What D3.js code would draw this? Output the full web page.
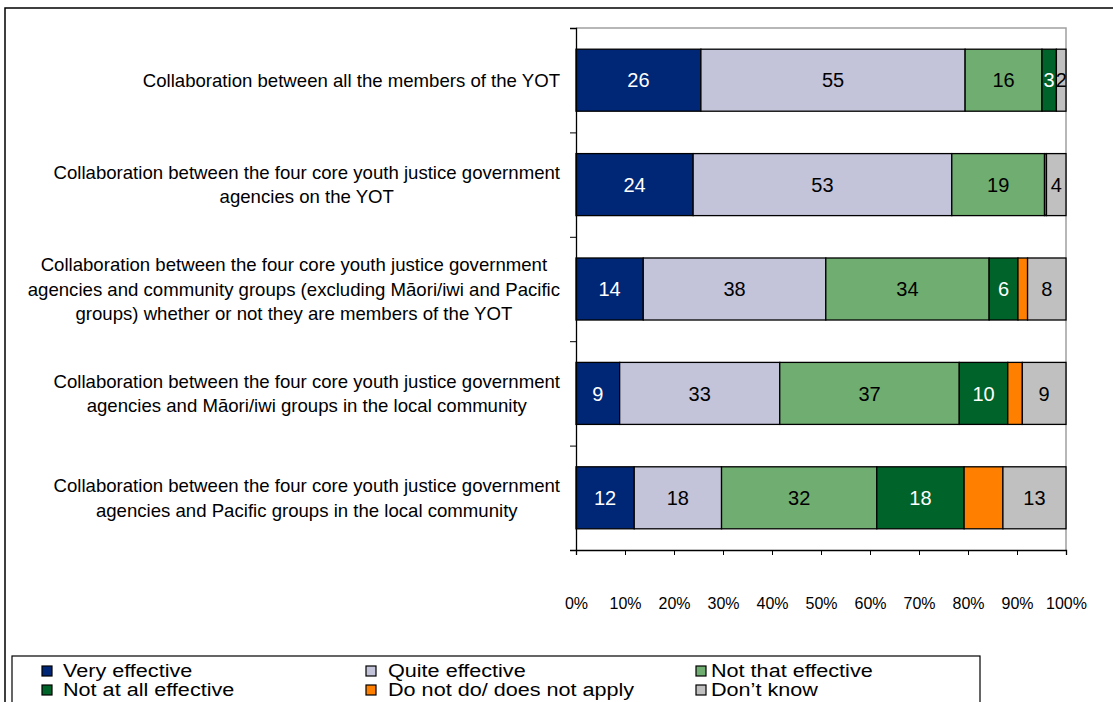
<!DOCTYPE html>
<html>
<head>
<meta charset="utf-8">
<script src="https://cdn.jsdelivr.net/npm/d3@7"></script>
<style>
  html, body { margin: 0; padding: 0; background: #fff; }
  svg { display: block; font-family: "Liberation Sans", Arial, sans-serif; }
</style>
</head>
<body>
<svg id="chart" width="1113" height="702"></svg>
<script>
// Categories (each entry is a list of wrapped lines)
const categories = [
  ["Collaboration between all the members of the YOT"],
  ["Collaboration between the four core youth justice government", "agencies on the YOT"],
  ["Collaboration between the four core youth justice government", "agencies and community groups (excluding Māori/iwi and Pacific", "groups) whether or not they are members of the YOT"],
  ["Collaboration between the four core youth justice government", "agencies and Māori/iwi groups in the local community"],
  ["Collaboration between the four core youth justice government", "agencies and Pacific groups in the local community"]
];

// Response series, percentages per category
const seriesNames = ["Very effective", "Quite effective", "Not that effective", "Not at all effective", "Do not do/ does not apply", "Don’t know"];
const veryEffective     = [26, 24, 14, 9, 12];
const quiteEffective    = [55, 53, 38, 33, 18];
const notThatEffective  = [16, 19, 34, 37, 32];
const notAtAllEffective = [3, 0, 6, 10, 18];
const doNotApply        = [0, 0.4, 2, 3, 8];
const dontKnow          = [2, 4, 8, 9, 13];

const xTicks = [0, 0.1, 0.2, 0.3, 0.4, 0.5, 0.6, 0.7, 0.8, 0.9, 1];

const colors = ["#002776", "#c3c3da", "#70ad70", "#006329", "#ff8000", "#c0c0c0"];
const labelColors = ["#fff", "#000", "#000", "#fff", null, "#000"];

const seriesValues = [veryEffective, quiteEffective, notThatEffective, notAtAllEffective, doNotApply, dontKnow];
const rows = categories.map((c, i) => {
  const r = { key: i };
  seriesNames.forEach((s, j) => { r[s] = seriesValues[j][i]; });
  return r;
});

const svg = d3.select("#chart");

// Outer chart frame
svg.append("rect")
  .attr("x", 5).attr("y", 8).attr("width", 1130).attr("height", 720)
  .attr("fill", "#fff").attr("stroke", "#000").attr("stroke-width", 1.5);

const plot = { left: 576, right: 1066, top: 28, bottom: 550 };

const x = d3.scaleLinear().domain([0, 1]).range([plot.left, plot.right]);
const y = d3.scaleBand()
  .domain(d3.range(categories.length))
  .range([plot.top, plot.bottom])
  .paddingInner(0.406)
  .paddingOuter(0.203);

// Plot area border (top and right)
svg.append("path")
  .attr("d", `M${plot.left},${plot.top}H${plot.right}V${plot.bottom}`)
  .attr("fill", "none").attr("stroke", "#a0a0a0").attr("stroke-width", 1.5);

const stack = d3.stack().keys(seriesNames).offset(d3.stackOffsetExpand);
const layers = stack(rows);

const g = svg.append("g");
layers.forEach((layer, si) => {
  g.selectAll(null)
    .data(layer.filter(d => d[1] - d[0] > 0))
    .join("rect")
    .attr("x", d => x(d[0]))
    .attr("y", d => y(d.data.key))
    .attr("width", d => x(d[1]) - x(d[0]))
    .attr("height", y.bandwidth())
    .attr("fill", colors[si])
    .attr("stroke", "#000")
    .attr("stroke-width", 1.3);
});

// Value labels
layers.forEach((layer, si) => {
  if (!labelColors[si]) return;
  g.selectAll(null)
    .data(layer.filter(d => d.data[seriesNames[si]] > 0))
    .join("text")
    .attr("x", d => (x(d[0]) + x(d[1])) / 2)
    .attr("y", d => y(d.data.key) + y.bandwidth() / 2)
    .attr("dy", "0.36em")
    .attr("text-anchor", "middle")
    .attr("font-size", 20)
    .attr("fill", labelColors[si])
    .text(d => d.data[seriesNames[si]]);
});

// Category axis with ticks at band boundaries
const yEdge = d3.scaleLinear().domain([0, categories.length]).range([plot.top, plot.bottom]);
svg.append("g")
  .attr("transform", `translate(${plot.left},0)`)
  .call(d3.axisLeft(yEdge).ticks(categories.length).tickSize(6).tickFormat(""))
  .call(a => a.select(".domain").attr("stroke", "#000").attr("stroke-width", 1.3))
  .call(a => a.selectAll(".tick line").attr("stroke", "#000"));

// Category labels: centred lines, widest line ending near the axis
const labelG = svg.append("g").attr("font-size", 18.6).attr("fill", "#000");
categories.forEach((lines, i) => {
  const lh = 24.5;
  const cy = y(i) + y.bandwidth() / 2;
  const t = labelG.append("text").attr("text-anchor", "middle");
  lines.forEach((ln, k) => {
    t.append("tspan")
      .attr("y", cy + (k - (lines.length - 1) / 2) * lh)
      .attr("dy", "0.35em")
      .text(ln);
  });
  let maxW = 0;
  t.selectAll("tspan").each(function () { maxW = Math.max(maxW, this.getComputedTextLength()); });
  t.selectAll("tspan").attr("x", 560 - maxW / 2);
});

// Percentage axis
svg.append("g")
  .attr("transform", `translate(0,${plot.bottom})`)
  .call(d3.axisBottom(x).tickValues(xTicks).tickFormat(d3.format(".0%")).tickSize(5).tickPadding(43))
  .call(a => a.select(".domain").attr("stroke", "#000").attr("stroke-width", 1.3))
  .call(a => a.selectAll(".tick line").attr("stroke", "#000"))
  .call(a => a.selectAll(".tick text").attr("font-size", 16).attr("fill", "#000")
    .attr("font-family", "'Liberation Sans', Arial, sans-serif"));

// Legend
const legend = svg.append("g");
legend.append("rect")
  .attr("x", 12).attr("y", 656).attr("width", 968).attr("height", 80)
  .attr("fill", "#fff").attr("stroke", "#000").attr("stroke-width", 1.2);
const colX = [42, 366, 696];
const textX = [63, 388, 711];
const rowY = [671, 690];
seriesNames.forEach((name, i) => {
  const c = i % 3, cy = rowY[Math.floor(i / 3)];
  legend.append("rect")
    .attr("x", colX[c]).attr("y", cy - 5).attr("width", 10).attr("height", 10)
    .attr("fill", colors[i]).attr("stroke", "#000").attr("stroke-width", 1.2);
  const t = legend.append("text")
    .attr("x", textX[c]).attr("y", cy).attr("dy", "0.36em")
    .attr("font-size", 18).attr("fill", "#000")
    .text(name);
  // legend type is set wide
  t.attr("textLength", t.node().getComputedTextLength() * 1.2)
   .attr("lengthAdjust", "spacingAndGlyphs");
});
</script>
</body>
</html>
